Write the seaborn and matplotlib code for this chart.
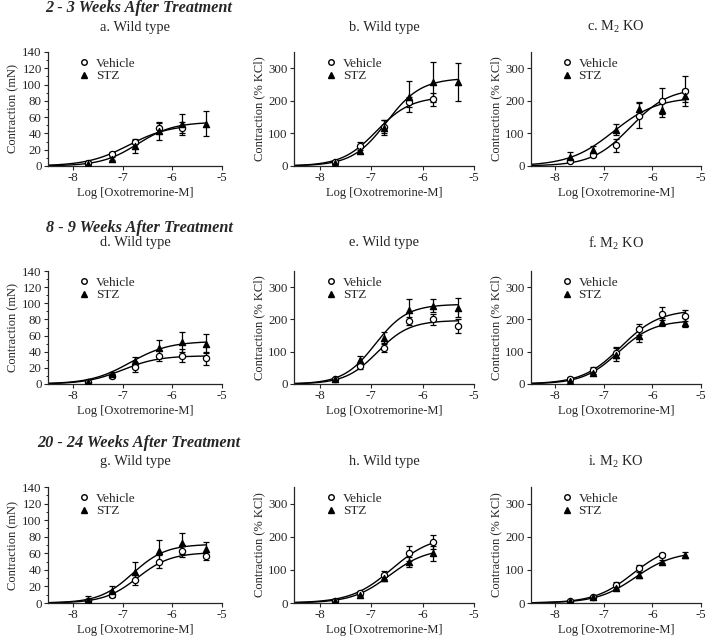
import numpy as np
import pandas as pd
import seaborn as sns
import matplotlib.pyplot as plt
from matplotlib.lines import Line2D
from matplotlib.ticker import MultipleLocator

sns.set_style("ticks")
plt.rcParams['font.family'] = ['Liberation Serif', 'DejaVu Serif']
plt.rcParams['mathtext.fontset'] = 'custom'
plt.rcParams['mathtext.rm'] = 'Liberation Serif'

# --- data (log molar concentration) ---
conc = [-7.7, -7.22, -6.75, -6.27, -5.8, -5.32]
nan = np.nan

row_titles = ["2 - 3 Weeks After Treatment", "8 - 9 Weeks After Treatment",
              "20 - 24 Weeks After Treatment"]
panel_titles = ["a. Wild type", "b. Wild type", "c. M$_2$ KO",
                "d. Wild type", "e. Wild type", "f. M$_2$ KO",
                "g. Wild type", "h. Wild type", "i. M$_2$ KO"]
ylabels = ["Contraction (mN)", "Contraction (% KCl)", "Contraction (% KCl)"]

veh_mean = {
    'a': [4, 15, 30, 47, 47, nan],
    'b': [12, 62, 120, 197, 205, nan],
    'c': [15, 33, 63, 155, 200, 230],
    'd': [3, 10, 21, 35, 35, 32],
    'e': [15, 55, 113, 195, 200, 180],
    'f': [15, 43, 97, 170, 218, 212],
    'g': [3, 10, 28, 50, 63, 57],
    'h': [5, 30, 85, 150, 185, nan],
    'i': [5, 18, 55, 107, 145, nan],
}
veh_err = {
    'a': [1, 2, 3, 6, 7, nan],
    'b': [3, 12, 20, 15, 20, nan],
    'c': [4, 5, 20, 38, 40, 45],
    'd': [1, 2, 6, 7, 8, 8],
    'e': [3, 8, 14, 12, 18, 22],
    'f': [7, 11, 18, 17, 19, 18],
    'g': [2, 3, 6, 8, 7, 5],
    'h': [2, 5, 12, 22, 21, nan],
    'i': [2, 3, 7, 8, 5, nan],
}
stz_mean = {
    'a': [2, 9, 24, 43, 51, 52],
    'b': [10, 47, 118, 213, 258, 258],
    'c': [27, 48, 112, 175, 172, 215],
    'd': [3, 13, 29, 45, 52, 50],
    'e': [17, 73, 143, 228, 242, 236],
    'f': [10, 35, 90, 150, 192, 190],
    'g': [4, 14, 38, 63, 72, 65],
    'h': [5, 25, 75, 125, 150, nan],
    'i': [5, 17, 45, 85, 125, 145],
}
stz_err = {
    'a': [1, 2, 8, 11, 13, 15],
    'b': [3, 8, 22, 48, 60, 57],
    'c': [15, 12, 18, 22, 22, 20],
    'd': [1, 2, 5, 10, 12, 12],
    'e': [3, 15, 18, 35, 20, 30],
    'f': [3, 5, 20, 20, 11, 13],
    'g': [4, 7, 12, 13, 13, 9],
    'h': [2, 4, 10, 15, 22, nan],
    'i': [2, 3, 4, 10, 5, 8],
}

# fitted sigmoid parameters: top, logEC50, hill slope
veh_fit = {
    'a': (51, -6.88, 1.05), 'b': (213, -6.9, 1.3), 'c': (240, -6.45, 1.1),
    'd': (35, -7.0, 1.2), 'e': (197, -6.88, 1.4), 'f': (230, -6.65, 1.1),
    'g': (61, -6.7, 1.3), 'h': (205, -6.6, 1.1), 'i': (178, -6.4, 1.1),
}
stz_fit = {
    'a': (54, -6.7, 1.2), 'b': (270, -6.7, 1.3), 'c': (212, -6.8, 0.95),
    'd': (53, -6.85, 1.1), 'e': (247, -6.92, 1.4), 'f': (197, -6.7, 1.2),
    'g': (71, -6.8, 1.3), 'h': (165, -6.65, 1.2), 'i': (155, -6.35, 1.1),
}

W, H = 709, 637
fig = plt.figure(figsize=(W / 100, H / 100), dpi=100)

ax_left = [48, 294, 531]
ax_width = [174, 180, 170]
ax_top = [52, 271, 487]
ax_bottom = [166, 384, 603]
row_title_y = [8, 228, 443]
panel_title_y = [27, 243, 462]


def sigmoid(x, top, ec, hill):
    return top / (1 + 10 ** ((ec - x) * hill))


letters = list("abcdefghi")
for r in range(3):
    fig.text(139 / W, 1 - row_title_y[r] / H, row_titles[r], ha='center', va='center',
             fontsize=11.7, fontweight='bold', style='italic')
    for c in range(3):
        k = letters[r * 3 + c]
        ax = fig.add_axes([ax_left[c] / W, 1 - ax_bottom[r] / H,
                           ax_width[c] / W, (ax_bottom[r] - ax_top[r]) / H])
        fig.text((ax_left[c] + ax_width[c] / 2) / W, 1 - panel_title_y[r] / H,
                 panel_titles[r * 3 + c], ha='center', va='center', fontsize=10.4)

        for mean, err, fit, mk, fc in [(veh_mean, veh_err, veh_fit, 'o', 'white'),
                                        (stz_mean, stz_err, stz_fit, '^', 'black')]:
            df = pd.DataFrame({'x': conc, 'y': mean[k], 'e': err[k]}).dropna()
            xs = np.linspace(-8.5, df['x'].max(), 200)
            curve = pd.DataFrame({'x': xs, 'y': sigmoid(xs, *fit[k])})
            sns.lineplot(data=curve, x='x', y='y', ax=ax, color='black', lw=1.0)
            ax.errorbar(df['x'], df['y'], yerr=df['e'], fmt='none', ecolor='black',
                        elinewidth=0.9, capsize=2.5, capthick=0.9, zorder=3)
            sns.scatterplot(data=df, x='x', y='y', ax=ax, marker=mk, s=20,
                            color=fc, edgecolor='black', linewidth=0.9, zorder=4)

        ax.set_xlim(-8.5, -5)
        ax.set_xticks([-8, -7, -6, -5])
        ax.set_xticklabels(['-8', '-7', '-6', '-5'])
        if c == 0:
            ax.set_ylim(0, 140)
            ax.yaxis.set_major_locator(MultipleLocator(20))
            ax.yaxis.set_minor_locator(MultipleLocator(10))
        else:
            ax.set_ylim(0, 350)
            ax.set_yticks([0, 100, 200, 300])
        ax.set_xlabel("Log [Oxotremorine-M]", fontsize=9, labelpad=2)
        ax.set_ylabel(ylabels[c], fontsize=9, labelpad=2)
        ax.tick_params(axis='both', which='major', labelsize=9.3, length=3, width=0.8, pad=1.5)
        ax.tick_params(axis='y', which='minor', length=1.8, width=0.7)
        for s in ['left', 'bottom']:
            ax.spines[s].set_linewidth(0.9)
        sns.despine(ax=ax)

        handles = [Line2D([], [], ls='none', marker='o', mfc='white', mec='black', ms=4),
                   Line2D([], [], ls='none', marker='^', mfc='black', mec='black', ms=4)]
        ax.legend(handles, ['Vehicle', 'STZ'], loc='upper left', bbox_to_anchor=(0.14, 1.0),
                  frameon=False, fontsize=9.5, handletextpad=0.4, labelspacing=0.05,
                  handlelength=1.0, borderaxespad=0)

fig.savefig("out.png", dpi=100)
